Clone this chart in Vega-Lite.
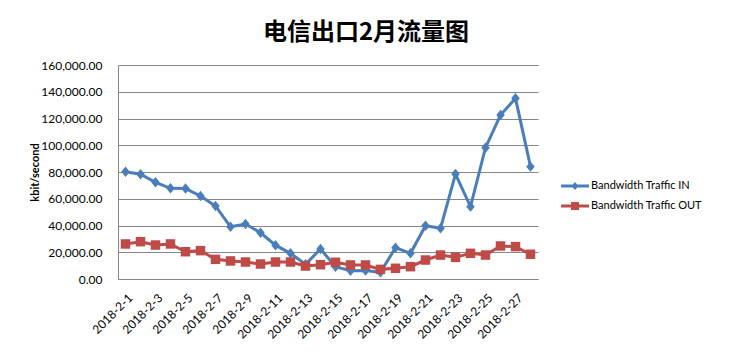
{
  "$schema": "https://vega.github.io/schema/vega-lite/v6.json",
  "autosize": {"type": "none"},
  "padding": {"left": 118, "top": 65, "right": 197, "bottom": 74},
  "width": 420,
  "height": 214,
  "background": "white",
  "title": {
    "text": "电信出口2月流量图",
    "font": "Noto Sans CJK SC",
    "fontSize": 24,
    "fontWeight": "bold",
    "color": "black",
    "anchor": "middle",
    "frame": "group",
    "dx": 38,
    "offset": 14
  },
  "data": {
    "values": [
      {"date": "2018-2-1", "series": "Bandwidth Traffic IN", "value": 80200},
      {"date": "2018-2-2", "series": "Bandwidth Traffic IN", "value": 78300},
      {"date": "2018-2-3", "series": "Bandwidth Traffic IN", "value": 72300},
      {"date": "2018-2-4", "series": "Bandwidth Traffic IN", "value": 67800},
      {"date": "2018-2-5", "series": "Bandwidth Traffic IN", "value": 67600},
      {"date": "2018-2-6", "series": "Bandwidth Traffic IN", "value": 62100},
      {"date": "2018-2-7", "series": "Bandwidth Traffic IN", "value": 54600},
      {"date": "2018-2-8", "series": "Bandwidth Traffic IN", "value": 39000},
      {"date": "2018-2-9", "series": "Bandwidth Traffic IN", "value": 41100},
      {"date": "2018-2-10", "series": "Bandwidth Traffic IN", "value": 34600},
      {"date": "2018-2-11", "series": "Bandwidth Traffic IN", "value": 25300},
      {"date": "2018-2-12", "series": "Bandwidth Traffic IN", "value": 19200},
      {"date": "2018-2-13", "series": "Bandwidth Traffic IN", "value": 11000},
      {"date": "2018-2-14", "series": "Bandwidth Traffic IN", "value": 22400},
      {"date": "2018-2-15", "series": "Bandwidth Traffic IN", "value": 9200},
      {"date": "2018-2-16", "series": "Bandwidth Traffic IN", "value": 6200},
      {"date": "2018-2-17", "series": "Bandwidth Traffic IN", "value": 6300},
      {"date": "2018-2-18", "series": "Bandwidth Traffic IN", "value": 5000},
      {"date": "2018-2-19", "series": "Bandwidth Traffic IN", "value": 23400},
      {"date": "2018-2-20", "series": "Bandwidth Traffic IN", "value": 19200},
      {"date": "2018-2-21", "series": "Bandwidth Traffic IN", "value": 39800},
      {"date": "2018-2-22", "series": "Bandwidth Traffic IN", "value": 37900},
      {"date": "2018-2-23", "series": "Bandwidth Traffic IN", "value": 78500},
      {"date": "2018-2-24", "series": "Bandwidth Traffic IN", "value": 54100},
      {"date": "2018-2-25", "series": "Bandwidth Traffic IN", "value": 98200},
      {"date": "2018-2-26", "series": "Bandwidth Traffic IN", "value": 122600},
      {"date": "2018-2-27", "series": "Bandwidth Traffic IN", "value": 135100},
      {"date": "2018-2-28", "series": "Bandwidth Traffic IN", "value": 84000},
      {"date": "2018-2-1", "series": "Bandwidth Traffic OUT", "value": 26200},
      {"date": "2018-2-2", "series": "Bandwidth Traffic OUT", "value": 27900},
      {"date": "2018-2-3", "series": "Bandwidth Traffic OUT", "value": 25400},
      {"date": "2018-2-4", "series": "Bandwidth Traffic OUT", "value": 26200},
      {"date": "2018-2-5", "series": "Bandwidth Traffic OUT", "value": 20400},
      {"date": "2018-2-6", "series": "Bandwidth Traffic OUT", "value": 21200},
      {"date": "2018-2-7", "series": "Bandwidth Traffic OUT", "value": 14700},
      {"date": "2018-2-8", "series": "Bandwidth Traffic OUT", "value": 13500},
      {"date": "2018-2-9", "series": "Bandwidth Traffic OUT", "value": 12700},
      {"date": "2018-2-10", "series": "Bandwidth Traffic OUT", "value": 11200},
      {"date": "2018-2-11", "series": "Bandwidth Traffic OUT", "value": 12700},
      {"date": "2018-2-12", "series": "Bandwidth Traffic OUT", "value": 12700},
      {"date": "2018-2-13", "series": "Bandwidth Traffic OUT", "value": 9700},
      {"date": "2018-2-14", "series": "Bandwidth Traffic OUT", "value": 10700},
      {"date": "2018-2-15", "series": "Bandwidth Traffic OUT", "value": 12500},
      {"date": "2018-2-16", "series": "Bandwidth Traffic OUT", "value": 10500},
      {"date": "2018-2-17", "series": "Bandwidth Traffic OUT", "value": 10500},
      {"date": "2018-2-18", "series": "Bandwidth Traffic OUT", "value": 7200},
      {"date": "2018-2-19", "series": "Bandwidth Traffic OUT", "value": 8000},
      {"date": "2018-2-20", "series": "Bandwidth Traffic OUT", "value": 9200},
      {"date": "2018-2-21", "series": "Bandwidth Traffic OUT", "value": 14200},
      {"date": "2018-2-22", "series": "Bandwidth Traffic OUT", "value": 17900},
      {"date": "2018-2-23", "series": "Bandwidth Traffic OUT", "value": 16200},
      {"date": "2018-2-24", "series": "Bandwidth Traffic OUT", "value": 19200},
      {"date": "2018-2-25", "series": "Bandwidth Traffic OUT", "value": 17900},
      {"date": "2018-2-26", "series": "Bandwidth Traffic OUT", "value": 24700},
      {"date": "2018-2-27", "series": "Bandwidth Traffic OUT", "value": 24200},
      {"date": "2018-2-28", "series": "Bandwidth Traffic OUT", "value": 18500}
    ]
  },
  "encoding": {
    "x": {
      "field": "date",
      "type": "nominal",
      "sort": null,
      "scale": {"paddingInner": 0, "paddingOuter": 0},
      "axis": {
        "title": null,
        "values": ["2018-2-1","2018-2-3","2018-2-5","2018-2-7","2018-2-9","2018-2-11","2018-2-13","2018-2-15","2018-2-17","2018-2-19","2018-2-21","2018-2-23","2018-2-25","2018-2-27"],
        "labelAngle": -45,
        "labelAlign": "right",
        "labelBaseline": "top",
        "labelPadding": 13,
        "labelOffset": 1,
        "labelFont": "Lato",
        "labelFontSize": 12,
        "labelColor": "black",
        "ticks": false,
        "grid": false,
        "domainColor": "#868686",
        "labelOverlap": false
      }
    },
    "y": {
      "field": "value",
      "type": "quantitative",
      "scale": {"domain": [0, 160000]},
      "axis": {
        "title": "kbit/second",
        "titleFont": "Lato",
        "titleFontSize": 11,
        "titleFontWeight": "bold",
        "titleColor": "black",
        "titlePadding": 0,
        "values": [0, 20000, 40000, 60000, 80000, 100000, 120000, 140000, 160000],
        "format": ",.2f",
        "labelFont": "Lato",
        "labelFontSize": 12,
        "labelColor": "black",
        "labelPadding": 16,
        "ticks": false,
        "grid": true,
        "gridColor": "#868686",
        "gridOpacity": 1,
        "domainColor": "#868686"
      }
    }
  },
  "layer": [
    {
      "mark": {"type": "line", "strokeWidth": 3},
      "encoding": {
        "color": {
          "field": "series",
          "type": "nominal",
          "scale": {"domain": ["Bandwidth Traffic IN", "Bandwidth Traffic OUT"], "range": ["#4A7EBB", "#BE4B48"]},
          "legend": null
        }
      }
    },
    {
      "mark": {"type": "point", "filled": true, "opacity": 1, "size": 90},
      "encoding": {
        "color": {
          "field": "series",
          "type": "nominal",
          "scale": {"domain": ["Bandwidth Traffic IN", "Bandwidth Traffic OUT"], "range": ["#4A7EBB", "#BE4B48"]},
          "legend": null
        },
        "shape": {
          "field": "series",
          "type": "nominal",
          "scale": {"domain": ["Bandwidth Traffic IN", "Bandwidth Traffic OUT"], "range": ["M0,-1.1L0.9,0L0,1.1L-0.9,0Z", "square"]},
          "legend": null
        }
      }
    },
    {
      "transform": [{"filter": "false"}],
      "mark": {"type": "point", "filled": true, "opacity": 1},
      "encoding": {
        "color": {
          "field": "series",
          "type": "nominal",
          "scale": {"domain": ["Bandwidth Traffic IN", "Bandwidth Traffic OUT"], "range": ["#4A7EBB", "#BE4B48"]},
          "legend": {
            "title": null,
            "orient": "none",
            "legendX": 447,
            "legendY": 111
          }
        },
        "shape": {
          "field": "series",
          "type": "nominal",
          "scale": {"domain": ["Bandwidth Traffic IN", "Bandwidth Traffic OUT"], "range": ["M-1.4,-0.15H1.4V0.15H-1.4Z M0,-0.4L0.35,0L0,0.4L-0.35,0Z", "M-1.4,-0.15H1.4V0.15H-1.4Z M-0.4,-0.4H0.4V0.4H-0.4Z"]},
          "legend": {
            "title": null,
            "orient": "none",
            "legendX": 447,
            "legendY": 111
          }
        }
      }
    }
  ],
  "resolve": {"scale": {"shape": "independent", "color": "independent"}},
  "config": {
    "view": {"stroke": null},
    "legend": {
      "symbolSize": 400,
      "symbolStrokeWidth": 0,
      "labelFont": "Lato",
      "labelFontSize": 11,
      "labelColor": "black",
      "labelOffset": 6,
      "rowPadding": 5,
      "padding": 0,
      "symbolOpacity": 1
    }
  }
}
